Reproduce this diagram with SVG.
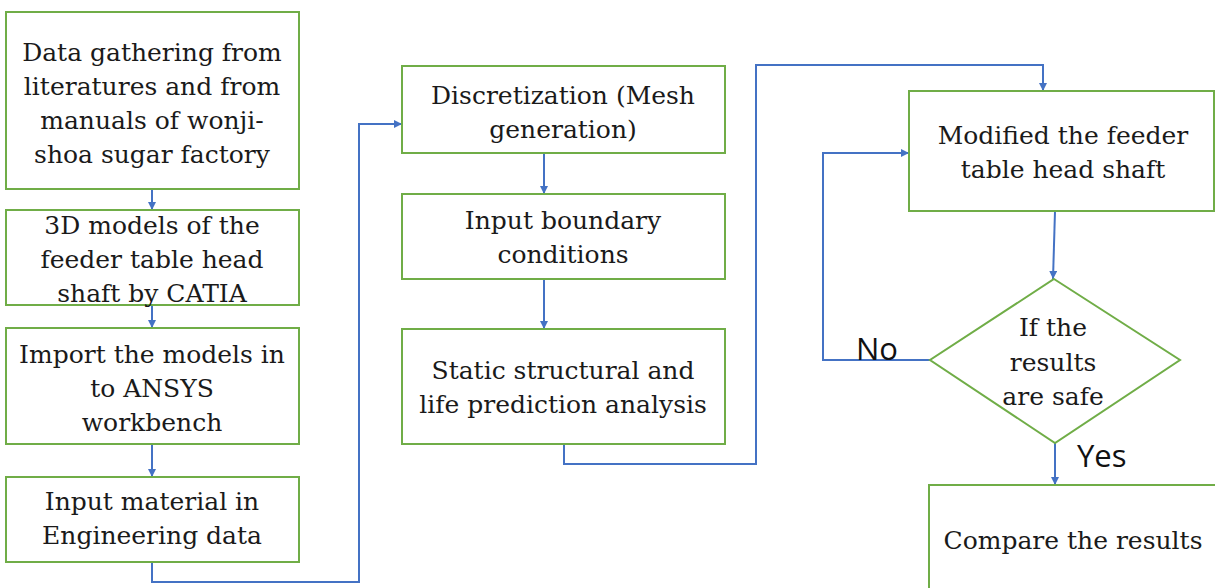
<svg xmlns="http://www.w3.org/2000/svg" width="1215" height="588" viewBox="0 0 1215 588">
<defs>
<marker id="ah" viewBox="0 0 6 6" refX="6" refY="3" markerWidth="4" markerHeight="4" orient="auto" markerUnits="strokeWidth">
<path d="M0,0 L6,3 L0,6 z" fill="#4472C4"/>
</marker>
<style>
.box{fill:#fff;stroke:#70AD47;stroke-width:2}
.t{font-family:"DejaVu Serif","Liberation Serif",serif;font-size:25px;fill:#1a1a1a;text-anchor:middle}
.s{font-family:"Open Sans","Liberation Sans",sans-serif;font-size:31px;fill:#111}
.c{fill:none;stroke:#4472C4;stroke-width:2;marker-end:url(#ah)}
</style>
</defs>
<rect width="1215" height="588" fill="#fff"/>
<g id="connectors">
<path class="c" d="M152,189 V210"/>
<path class="c" d="M152,305 V328"/>
<path class="c" d="M152,444 V477"/>
<path class="c" d="M152,562 V582 H359 V124 H402"/>
<path class="c" d="M544,153 V194"/>
<path class="c" d="M544,279 V329"/>
<path class="c" d="M564,444 V464 H756 V65 H1043 V91"/>
<path class="c" d="M1055,211 L1053,279"/>
<path class="c" d="M930,360 H823 V153 H909"/>
<path class="c" d="M1055,443 V485"/>
</g>
<g id="n1"><rect class="box" x="6" y="12" width="293" height="177"/>
<text class="t" x="152" y="61">Data gathering from</text>
<text class="t" x="152" y="95">literatures and from</text>
<text class="t" x="152" y="129">manuals of wonji-</text>
<text class="t" x="152" y="163">shoa sugar factory</text></g>
<g id="n2"><rect class="box" x="6" y="210" width="293" height="95"/>
<text class="t" x="152" y="234">3D models of the</text>
<text class="t" x="152" y="268">feeder table head</text>
<text class="t" x="152" y="302">shaft by CATIA</text></g>
<g id="n3"><rect class="box" x="6" y="328" width="293" height="116"/>
<text class="t" x="152" y="363">Import the models in</text>
<text class="t" x="152" y="397">to ANSYS</text>
<text class="t" x="152" y="431">workbench</text></g>
<g id="n4"><rect class="box" x="6" y="477" width="293" height="85"/>
<text class="t" x="152" y="510">Input material in</text>
<text class="t" x="152" y="544">Engineering data</text></g>
<g id="n5"><rect class="box" x="402" y="66" width="323" height="87"/>
<text class="t" x="563" y="104">Discretization (Mesh</text>
<text class="t" x="563" y="138">generation)</text></g>
<g id="n6"><rect class="box" x="402" y="194" width="323" height="85"/>
<text class="t" x="563" y="229">Input boundary</text>
<text class="t" x="563" y="263">conditions</text></g>
<g id="n7"><rect class="box" x="402" y="329" width="323" height="115"/>
<text class="t" x="563" y="379">Static structural and</text>
<text class="t" x="563" y="413">life prediction analysis</text></g>
<g id="n8"><rect class="box" x="909" y="91" width="305" height="120"/>
<text class="t" x="1063" y="144">Modified the feeder</text>
<text class="t" x="1063" y="178">table head shaft</text></g>
<g id="n9"><polygon class="box" points="1054,279 1180,360 1055,443 930,360"/>
<text class="t" x="1053" y="336">If the</text>
<text class="t" x="1053" y="371">results</text>
<text class="t" x="1053" y="405">are safe</text></g>
<g id="n10"><rect class="box" x="929" y="485" width="290" height="110"/>
<text class="t" x="1073" y="549">Compare the results</text></g>
<text class="s" x="856" y="360">No</text>
<text class="s" x="1077" y="467">Yes</text>
</svg>
